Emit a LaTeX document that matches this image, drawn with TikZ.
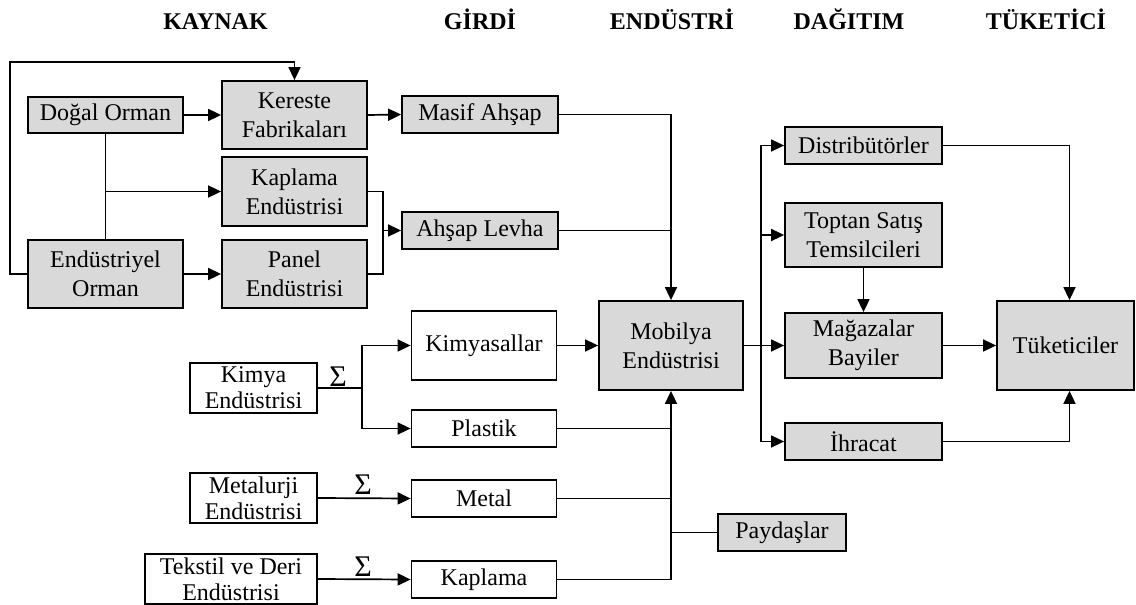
\documentclass[tikz,border=0pt]{standalone}
\usepackage{fontspec}
\setmainfont{Liberation Serif}
\usetikzlibrary{arrows.meta}
\definecolor{boxgray}{RGB}{217,217,217}
\begin{document}
\begin{tikzpicture}[x=1pt,y=-1pt,
  gbox/.style={draw, fill=boxgray, line width=1.8pt, align=center, inner sep=0pt,
    font=\fontsize{24}{29}\selectfont},
  wbox/.style={gbox, fill=white},
  tbox/.style={wbox, font=\fontsize{24}{26}\selectfont},
  ln/.style={line width=1.7pt},
  arr/.style={ln, -{Triangle[length=13pt,width=12pt]}},
  hdr/.style={font=\fontsize{24}{29}\selectfont\bfseries, anchor=base, inner sep=0pt},
  sig/.style={font=\fontsize{30}{30}\selectfont, inner sep=0pt}]
\useasboundingbox (0,0) rectangle (1136,605);
% headers
\node[hdr] (h1) at (215.5,29) {KAYNAK};
\node[hdr] (h2) at (480,29) {GİRDİ};
\node[hdr] (h3) at (672,29) {ENDÜSTRİ};
\node[hdr] (h4) at (849,29) {DAĞITIM};
\node[hdr] (h5) at (1046,29) {TÜKETİCİ};
% source boxes
\node[gbox, minimum width=155pt, minimum height=36pt] (dogal) at (105.5,115) {Doğal Orman};
\node[gbox, minimum width=155pt, minimum height=68pt] (endorm) at (105.5,274) {Endüstriyel\\Orman};
\node[gbox, minimum width=145pt, minimum height=68pt] (kereste) at (294.5,115) {Kereste\\Fabrikaları};
\node[gbox, minimum width=145pt, minimum height=69pt] (kaplE) at (294.5,191.5) {Kaplama\\Endüstrisi};
\node[gbox, minimum width=145pt, minimum height=68pt] (panel) at (294.5,274) {Panel\\Endüstrisi};
\node[gbox, minimum width=156pt, minimum height=37pt] (masif) at (480,114.5) {Masif Ahşap};
\node[gbox, minimum width=156pt, minimum height=37pt] (levha) at (480,230.5) {Ahşap Levha};
% industry
\node[gbox, minimum width=144pt, minimum height=89pt] (mob) at (671,345.5) {Mobilya\\Endüstrisi};
% distribution
\node[gbox, minimum width=157pt, minimum height=37pt] (dist) at (863.5,145.5) {Distribütörler};
\node[gbox, minimum width=157pt, minimum height=64pt] (topt) at (863.5,235) {Toptan Satış\\Temsilcileri};
\node[gbox, minimum width=157pt, minimum height=65pt] (maga) at (863.5,345.5) {Mağazalar\\Bayiler};
\node[gbox, minimum width=157pt, minimum height=37pt] (ihr) at (863.5,441.5) {İhracat};
\node[gbox, minimum width=137pt, minimum height=89pt] (tuk) at (1065.5,345.5) {Tüketiciler};
\node[gbox, minimum width=128pt, minimum height=37pt] (pay) at (782,532.5) {Paydaşlar};
% inputs
\node[wbox, minimum width=145pt, minimum height=69pt] (kimy) at (484,345.5) {Kimyasallar};
\node[wbox, minimum width=145pt, minimum height=37pt] (plas) at (484,428.5) {Plastik};
\node[wbox, minimum width=145pt, minimum height=37pt] (metal) at (484,498.5) {Metal};
\node[wbox, minimum width=145pt, minimum height=37pt] (kapl) at (484,579.5) {Kaplama};
\node[tbox, minimum width=127pt, minimum height=50pt] (kimE) at (253.5,388) {Kimya\\Endüstrisi};
\node[tbox, minimum width=127pt, minimum height=50pt] (metE) at (253.5,498) {Metalurji\\Endüstrisi};
\node[tbox, minimum width=172pt, minimum height=50pt] (tekE) at (231,579) {Tekstil ve Deri\\Endüstrisi};
% sigma labels
\node[sig] (s1) at (338,377) {Σ};
\node[sig] (s2) at (363,485) {Σ};
\node[sig] (s3) at (363,567) {Σ};
% junction coordinates
\coordinate (loopL) at (10,62);
\coordinate (jA) at (383,230.5);
\coordinate (jK) at (362,388);
\coordinate (jM) at (761,345.5);
% source connectors
\draw[arr] (dogal.east) -- (kereste.west);
\draw[ln] (dogal.south) -- (dogal.south |- endorm.north);
\draw[arr] (dogal.south |- kaplE.west) -- (kaplE.west);
\draw[arr] (endorm.east) -- (panel.west);
\draw[arr] (endorm.west) -| (loopL) -| (kereste.north);
\draw[ln] (kaplE.east) -| (jA) |- (panel.east);
\draw[arr] (jA) -- (levha.west);
\draw[arr] (kereste.east) -- (masif.west);
\draw[arr] (masif.east) -| (mob.north);
\draw[ln] (levha.east) -- (levha.east -| mob.north);
% inputs
\draw[ln] (kimE.east) -- (jK);
\draw[arr] (jK) |- (kimy.west);
\draw[arr] (jK) |- (plas.west);
\draw[arr] (metE.east) -- (metal.west);
\draw[arr] (tekE.east) -- (kapl.west);
\draw[arr] (kimy.east) -- (mob.west);
\draw[ln] (plas.east) -- (plas.east -| mob.south);
\draw[ln] (metal.east) -- (metal.east -| mob.south);
\draw[arr] (kapl.east) -| (mob.south);
\draw[ln] (pay.west) -- (pay.west -| mob.south);
% distribution
\draw[arr] (mob.east) -- (maga.west);
\draw[arr] (jM) |- (dist.west);
\draw[arr] (jM) |- (topt.west);
\draw[arr] (jM) |- (ihr.west);
\draw[arr] (topt.south) -- (maga.north);
\draw[arr] (dist.east) -| ([xshift=4pt]tuk.north);
\draw[arr] (ihr.east) -| ([xshift=4pt]tuk.south);
\draw[arr] (maga.east) -- (tuk.west);
\end{tikzpicture}
\end{document}
